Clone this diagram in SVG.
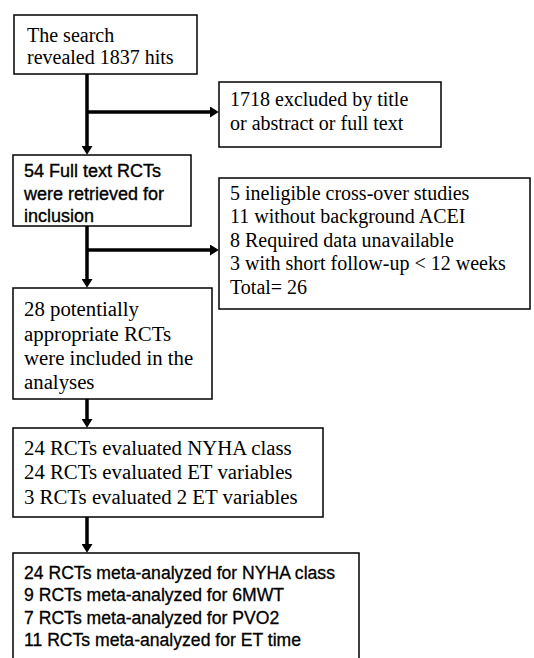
<svg xmlns="http://www.w3.org/2000/svg" width="534" height="658" viewBox="0 0 534 658">
  <style>
    .box { fill: #ffffff; stroke: #000000; stroke-width: 1.5; }
    .serif { font-family: "Liberation Serif", "Times New Roman", serif; font-size: 20px; fill: #000000; }
    .serif21 { font-family: "Liberation Serif", "Times New Roman", serif; font-size: 20.8px; fill: #000000; }
    .sans { font-family: "Liberation Sans", Arial, sans-serif; font-size: 18px; fill: #000000; stroke: #000000; stroke-width: 0.35; }
    .sans17 { font-family: "Liberation Sans", Arial, sans-serif; font-size: 17.6px; fill: #000000; stroke: #000000; stroke-width: 0.3; }
    .link { fill: none; stroke: #000000; stroke-width: 3.5; }
  </style>
  <defs>
    <marker id="arrow" markerUnits="userSpaceOnUse" markerWidth="11" markerHeight="11" viewBox="0 0 8 10" refX="0" refY="5" orient="auto">
      <path d="M0,0 L8,5 L0,10 Z" fill="#000000"/>
    </marker>
  </defs>
  <rect width="534" height="658" fill="#ffffff"/>

  <g id="connectors">
    <line class="link" x1="87" y1="74" x2="87" y2="146" marker-end="url(#arrow)"/>
    <line class="link" x1="87" y1="112" x2="210" y2="112" marker-end="url(#arrow)"/>
    <line class="link" x1="87" y1="226" x2="87" y2="279" marker-end="url(#arrow)"/>
    <line class="link" x1="87" y1="250" x2="210" y2="250" marker-end="url(#arrow)"/>
    <line class="link" x1="87" y1="399" x2="87" y2="419" marker-end="url(#arrow)"/>
    <line class="link" x1="87" y1="517" x2="87" y2="544" marker-end="url(#arrow)"/>
  </g>

  <g id="search">
    <rect class="box" x="14" y="15" width="183" height="59"/>
    <text class="serif" x="27" y="42">The search</text>
    <text class="serif" x="27" y="64">revealed 1837 hits</text>
  </g>

  <g id="excluded-title">
    <rect class="box" x="219" y="82" width="222" height="65"/>
    <text class="serif" x="230" y="106">1718 excluded by title</text>
    <text class="serif" x="230" y="130">or abstract or full text</text>
  </g>

  <g id="full-text">
    <rect class="box" x="13" y="155" width="178" height="71"/>
    <text class="sans" x="24" y="177">54 Full text RCTs</text>
    <text class="sans" x="24" y="200">were retrieved for</text>
    <text class="sans" x="24" y="222">inclusion</text>
  </g>

  <g id="excluded-reasons">
    <rect class="box" x="219" y="178" width="311" height="131"/>
    <text class="serif" x="230" y="200">5 ineligible cross-over studies</text>
    <text class="serif" x="230" y="223">11 without background ACEI</text>
    <text class="serif" x="230" y="247">8 Required data unavailable</text>
    <text class="serif" x="230" y="270">3 with short follow-up &lt; 12 weeks</text>
    <text class="serif" x="230" y="294">Total= 26</text>
  </g>

  <g id="included">
    <rect class="box" x="13" y="288" width="199" height="111"/>
    <text class="serif21" x="24" y="316">28 potentially</text>
    <text class="serif21" x="24" y="341">appropriate RCTs</text>
    <text class="serif21" x="24" y="365">were included in the</text>
    <text class="serif21" x="24" y="389">analyses</text>
  </g>

  <g id="evaluated">
    <rect class="box" x="13" y="428" width="310" height="89"/>
    <text class="serif21" x="24" y="455">24 RCTs evaluated NYHA class</text>
    <text class="serif21" x="24" y="479">24 RCTs evaluated ET variables</text>
    <text class="serif21" x="24" y="504">3 RCTs evaluated 2 ET variables</text>
  </g>

  <g id="meta-analyzed">
    <rect class="box" x="13" y="553" width="346" height="115"/>
    <text class="sans17" x="24" y="579">24 RCTs meta-analyzed for NYHA class</text>
    <text class="sans17" x="24" y="601">9 RCTs meta-analyzed for 6MWT</text>
    <text class="sans17" x="24" y="624">7 RCTs meta-analyzed for PVO2</text>
    <text class="sans17" x="24" y="646">11 RCTs meta-analyzed for ET time</text>
  </g>
</svg>
